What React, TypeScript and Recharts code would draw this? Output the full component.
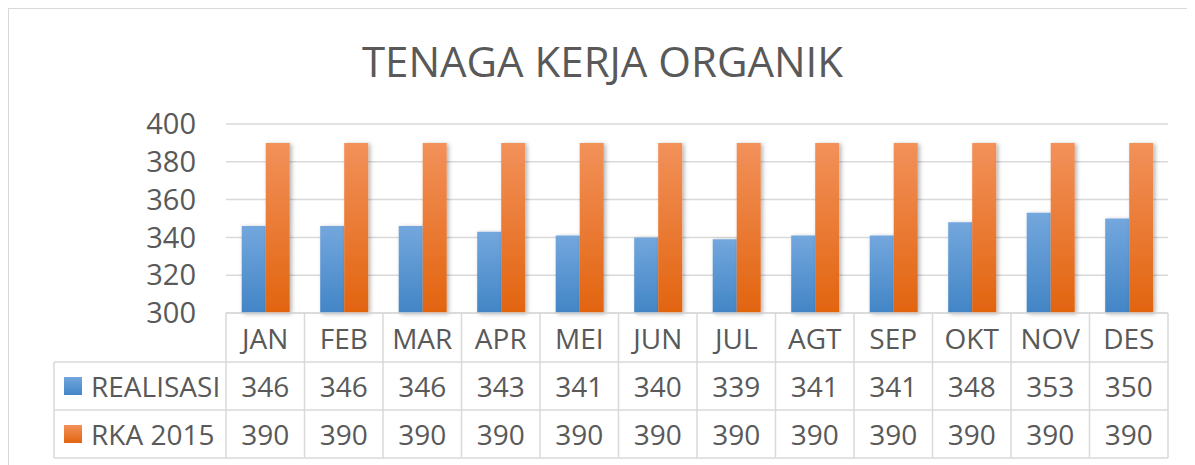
import React from "react";
import { BarChart, Bar, XAxis, YAxis, CartesianGrid } from "recharts";

const months = ["JAN", "FEB", "MAR", "APR", "MEI", "JUN", "JUL", "AGT", "SEP", "OKT", "NOV", "DES"];
const realisasi = [346, 346, 346, 343, 341, 340, 339, 341, 341, 348, 353, 350];
const rka2015 = [390, 390, 390, 390, 390, 390, 390, 390, 390, 390, 390, 390];
const yTicks = [300, 320, 340, 360, 380, 400];

const seriesNames = ["REALISASI", "RKA 2015"];

const W = 1187;
const H = 457;
const LEFT = 217;
const RIGHT = 28;
const TOP = 115;
const AXIS_H = 150;
const BOTTOM = H - TOP - 189 - AXIS_H;
const PLOT_W = W - LEFT - RIGHT;
const HEADER_H = 49;
const ROW_H = 48;
const LEGEND_X = 45;
const FONT = "'Open Sans', 'Noto Sans', sans-serif";
const TEXT = "#595959";
const LINE = "#d9d9d9";

const data = months.map((m, i) => ({
  month: m,
  realisasi: realisasi[i],
  rka: rka2015[i],
}));

function TableTick(props: any) {
  const { x, y, payload } = props;
  const i = payload.index;
  const bw = payload.offset ? payload.offset * 2 : PLOT_W / months.length;
  const x0 = x - bw / 2;
  const x1 = x + bw / 2;
  const bottom = y + HEADER_H + ROW_H * 2;
  return (
    <g fontFamily={FONT} fill={TEXT} fontSize={28}>
      <line x1={x1} y1={y} x2={x1} y2={bottom} stroke={LINE} strokeWidth={1.5} />
      {i === 0 && (
        <g>
          <line x1={x0} y1={y} x2={x0} y2={bottom} stroke={LINE} strokeWidth={1.5} />
          <line x1={LEGEND_X} y1={y + HEADER_H} x2={LEGEND_X} y2={bottom} stroke={LINE} strokeWidth={1.5} />
          <line x1={LEGEND_X} y1={y + HEADER_H} x2={x0} y2={y + HEADER_H} stroke={LINE} strokeWidth={1.5} />
          <line x1={LEGEND_X} y1={y + HEADER_H + ROW_H} x2={x0} y2={y + HEADER_H + ROW_H} stroke={LINE} strokeWidth={1.5} />
          <line x1={LEGEND_X} y1={bottom} x2={x0} y2={bottom} stroke={LINE} strokeWidth={1.5} />
          <rect x={LEGEND_X + 10} y={y + HEADER_H + ROW_H / 2 - 9} width={18} height={18} fill="url(#gBlue)" />
          <rect x={LEGEND_X + 10} y={y + HEADER_H + ROW_H * 1.5 - 9} width={18} height={18} fill="url(#gOrange)" />
          <text x={LEGEND_X + 37} y={y + HEADER_H + ROW_H / 2} dominantBaseline="central">{seriesNames[0]}</text>
          <text x={LEGEND_X + 37} y={y + HEADER_H + ROW_H * 1.5} dominantBaseline="central">{seriesNames[1]}</text>
        </g>
      )}
      <line x1={x0} y1={y + HEADER_H} x2={x1} y2={y + HEADER_H} stroke={LINE} strokeWidth={1.5} />
      <line x1={x0} y1={y + HEADER_H + ROW_H} x2={x1} y2={y + HEADER_H + ROW_H} stroke={LINE} strokeWidth={1.5} />
      <line x1={x0} y1={bottom} x2={x1} y2={bottom} stroke={LINE} strokeWidth={1.5} />
      <text x={x} y={y + HEADER_H / 2} textAnchor="middle" dominantBaseline="central">{payload.value}</text>
      <text x={x} y={y + HEADER_H + ROW_H / 2} textAnchor="middle" dominantBaseline="central">{realisasi[i]}</text>
      <text x={x} y={y + HEADER_H + ROW_H * 1.5} textAnchor="middle" dominantBaseline="central">{rka2015[i]}</text>
    </g>
  );
}

export default function App() {
  return (
    <div
      style={{
        position: "relative",
        width: W,
        height: H,
        marginLeft: -1,
        marginTop: -1,
        borderTop: `2px solid ${LINE}`,
        borderLeft: `2px solid ${LINE}`,
        overflow: "hidden",
        background: "#fff",
      }}
    >
      <div
        style={{
          position: "absolute",
          top: 26,
          left: 0,
          width: W,
          textAlign: "center",
          fontFamily: FONT,
          fontSize: 42,
          color: TEXT,
          lineHeight: "52px",
        }}
      >
        TENAGA KERJA ORGANIK
      </div>
      <BarChart
        width={W}
        height={H}
        data={data}
        margin={{ top: TOP, right: RIGHT, left: LEFT - 100, bottom: BOTTOM }}
        barCategoryGap="20%"
        barGap={0}
      >
        <defs>
          <linearGradient id="gBlue" x1="0" y1="0" x2="0" y2="1">
            <stop offset="0%" stopColor="#73a7dd" />
            <stop offset="100%" stopColor="#4285c6" />
          </linearGradient>
          <linearGradient id="gOrange" x1="0" y1="0" x2="0" y2="1">
            <stop offset="0%" stopColor="#f2915a" />
            <stop offset="100%" stopColor="#e2640f" />
          </linearGradient>
          <filter id="shadow" x="-20%" y="-5%" width="150%" height="115%">
            <feDropShadow dx="2" dy="1" stdDeviation="2" floodColor="#000" floodOpacity="0.3" />
          </filter>
        </defs>
        <CartesianGrid vertical={false} stroke={LINE} strokeWidth={1.5} />
        <XAxis
          dataKey="month"
          height={AXIS_H}
          axisLine={{ stroke: LINE, strokeWidth: 1.5 }}
          tickLine={false}
          tickSize={0}
          tickMargin={0}
          interval={0}
          tick={<TableTick />}
        />
        <YAxis
          width={100}
          domain={[300, 400]}
          ticks={yTicks}
          interval={0}
          axisLine={false}
          tickLine={false}
          tickSize={0}
          tickMargin={30}
          tick={{ fill: TEXT, fontSize: 29, fontFamily: FONT }}
        />
        <Bar dataKey="realisasi" fill="url(#gBlue)" filter="url(#shadow)" isAnimationActive={false} />
        <Bar dataKey="rka" fill="url(#gOrange)" filter="url(#shadow)" isAnimationActive={false} />
      </BarChart>
    </div>
  );
}
